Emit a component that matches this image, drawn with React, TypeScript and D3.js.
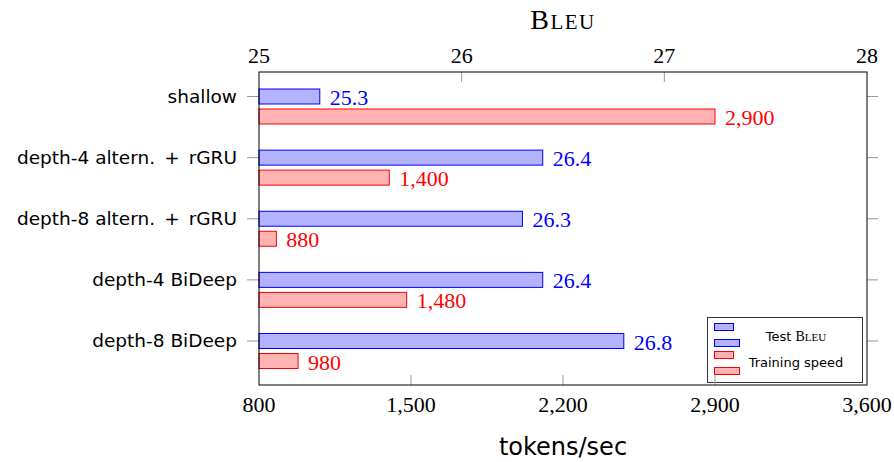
import React from "react";
import * as d3 from "d3";

const categories = [
  "shallow",
  "depth-4 altern. + rGRU",
  "depth-8 altern. + rGRU",
  "depth-4 BiDeep",
  "depth-8 BiDeep",
];
const bleuValues = [25.3, 26.4, 26.3, 26.4, 26.8];
const speedValues = [2900, 1400, 880, 1480, 980];
const bleuTicks = [25, 26, 27, 28];
const speedTicks = [800, 1500, 2200, 2900, 3600];

const W = 894;
const H = 462;
const L = 259;
const R = 867;
const T = 72;
const B = 385;

const BLUE = "#0000ff";
const BLUE_FILL = "#b3b3ff";
const RED = "#ff0000";
const RED_FILL = "#ffb3b3";
const SERIF = "'Liberation Serif', 'DejaVu Serif', serif";
const SANS = "'DejaVu Sans', sans-serif";

export default function App() {
  const xB = d3.scaleLinear().domain([25, 28]).range([L, R]);
  const xS = d3.scaleLinear().domain([800, 3600]).range([L, R]);
  const y = d3.scalePoint<string>().domain(categories).range([96.5, 341]);
  const fmtB = d3.format(".1f");
  const fmtS = d3.format(",");
  const barH = 15;
  const redOff = 20;

  const renderCat = (c: string) => {
    if (c.includes(" + ")) {
      const [a, b] = c.split(" + ");
      return (
        <>
          <tspan>{a}</tspan>
          <tspan dx={9}>+</tspan>
          <tspan dx={9}>{b}</tspan>
        </>
      );
    }
    return c;
  };

  return (
    <svg
      width={W}
      height={H}
      style={{ position: "absolute", left: 0, top: 0, background: "#fff" }}
    >
      {/* title */}
      <text x={(L + R) / 2} y={29} textAnchor="middle" fontFamily={SERIF} fill="#000" letterSpacing={1.5}>
        <tspan fontSize={28}>B</tspan>
        <tspan fontSize={21}>LEU</tspan>
      </text>

      {/* top tick labels */}
      {bleuTicks.map((t) => (
        <text key={"bt" + t} x={xB(t)} y={63} textAnchor="middle" fontFamily={SERIF} fontSize={22}>
          {t}
        </text>
      ))}
      {/* bottom tick labels */}
      {speedTicks.map((t) => (
        <text key={"st" + t} x={xS(t)} y={412} textAnchor="middle" fontFamily={SERIF} fontSize={22}>
          {fmtS(t)}
        </text>
      ))}
      <text x={(L + R) / 2} y={455} textAnchor="middle" fontFamily={SANS} fontSize={24}>
        tokens/sec
      </text>

      {/* category labels and y ticks */}
      {categories.map((c) => (
        <g key={"c" + c}>
          <text x={237} y={y(c)!} dy="0.35em" textAnchor="end" fontFamily={SANS} fontSize={18.5}>
            {renderCat(c)}
          </text>
          <line x1={247} x2={L} y1={y(c)!} y2={y(c)!} stroke="#999" strokeWidth={1} />
          <line x1={R} x2={878} y1={y(c)!} y2={y(c)!} stroke="#999" strokeWidth={1} />
        </g>
      ))}

      {/* bars */}
      {categories.map((c, i) => {
        const yc = y(c)!;
        return (
          <g key={"b" + c}>
            <rect
              x={xB(25)}
              y={yc - barH / 2}
              width={xB(bleuValues[i]) - xB(25)}
              height={barH}
              fill={BLUE_FILL}
              stroke={BLUE}
              strokeWidth={1}
            />
            <text x={xB(bleuValues[i]) + 10} y={yc + 8.5} fontFamily={SERIF} fontSize={22} fill={BLUE}>
              {fmtB(bleuValues[i])}
            </text>
            <rect
              x={xS(800)}
              y={yc + redOff - barH / 2}
              width={xS(speedValues[i]) - xS(800)}
              height={barH}
              fill={RED_FILL}
              stroke={RED}
              strokeWidth={1}
            />
            <text x={xS(speedValues[i]) + 10} y={yc + redOff + 8.5} fontFamily={SERIF} fontSize={22} fill={RED}>
              {fmtS(speedValues[i])}
            </text>
          </g>
        );
      })}

      {/* legend */}
      <g>
        <rect x={707.5} y={317.5} width={155} height={65} fill="#fff" stroke="#333" strokeWidth={1} />
        <rect x={714.5} y={323.5} width={19} height={7} fill={BLUE_FILL} stroke={BLUE} />
        <rect x={714.5} y={339.5} width={25} height={7} fill={BLUE_FILL} stroke={BLUE} />
        <rect x={714.5} y={351.5} width={19} height={7} fill={RED_FILL} stroke={RED} />
        <rect x={714.5} y={367.5} width={25} height={7} fill={RED_FILL} stroke={RED} />
        <text x={796} y={341} textAnchor="middle" fontSize={13}>
          <tspan fontFamily={SANS}>Test </tspan>
          <tspan fontFamily={SERIF} fontSize={14}>B</tspan>
          <tspan fontFamily={SERIF} fontSize={11}>LEU</tspan>
        </text>
        <text x={796} y={367} textAnchor="middle" fontFamily={SANS} fontSize={13}>
          Training speed
        </text>
      </g>

      {/* x ticks */}
      {bleuTicks.slice(1, -1).map((t) => (
        <line key={"tt" + t} x1={xB(t)} x2={xB(t)} y1={T} y2={T + 10} stroke="#999" />
      ))}
      {speedTicks.slice(1, -1).map((t) => (
        <line key={"bt" + t} x1={xS(t)} x2={xS(t)} y1={B - 10} y2={B} stroke="#999" />
      ))}

      {/* frame */}
      <rect x={L} y={T} width={R - L} height={B - T} fill="none" stroke="#000" strokeWidth={1} />
    </svg>
  );
}
